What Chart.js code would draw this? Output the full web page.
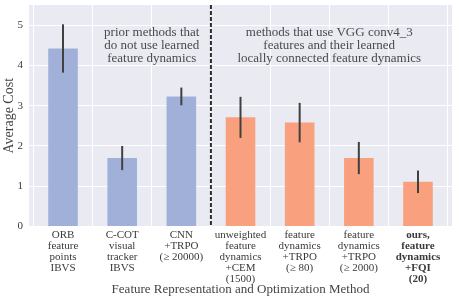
<!DOCTYPE html>
<html>
<head>
<meta charset="utf-8">
<script src="https://cdn.jsdelivr.net/npm/chart.js@4"></script>
<style>
  html, body { margin: 0; padding: 0; background: #fff; }
  #wrap { width: 457px; height: 302px; }
</style>
</head>
<body>
<div id="wrap"><canvas id="costChart" width="457" height="302"></canvas></div>
<script>
// data
const methods = [
  ['ORB', 'feature', 'points', 'IBVS'],
  ['C-COT', 'visual', 'tracker', 'IBVS'],
  ['CNN', '+TRPO', '(\u2265 20000)'],
  ['unweighted', 'feature', 'dynamics', '+CEM', '(1500)'],
  ['feature', 'dynamics', '+TRPO', '(\u2265 80)'],
  ['feature', 'dynamics', '+TRPO', '(\u2265 2000)'],
  ['ours,', 'feature', 'dynamics', '+FQI', '(20)']
];
const avgCost = [4.42, 1.70, 3.23, 2.71, 2.58, 1.70, 1.11];
const costErr = [0.60, 0.30, 0.22, 0.51, 0.49, 0.40, 0.28];
const yTicks = [0, 1, 2, 3, 4, 5];
const groupNotes = [
  ['prior methods that', 'do not use learned', 'feature dynamics'],
  ['methods that use VGG conv4_3', 'features and their learned', 'locally connected feature dynamics']
];

const blue = '#a1b0d8';
const orange = '#f9a07e';
const serif = '"Liberation Serif", "DejaVu Serif", serif';

const points = avgCost.map((v, i) => ({ x: i, y: v }));

// background + grid area fill
const bgPlugin = {
  id: 'bg',
  beforeDraw(chart) {
    const { ctx, chartArea: a } = chart;
    ctx.save();
    ctx.fillStyle = '#eaeaf2';
    ctx.fillRect(a.left, a.top, a.right - a.left, a.bottom - a.top);
    ctx.restore();
  }
};

// error bars, divider line, notes and axis titles
const extrasPlugin = {
  id: 'extras',
  afterDatasetsDraw(chart) {
    const { ctx, chartArea: a } = chart;
    const xs = chart.scales.x, ys = chart.scales.y;
    ctx.save();
    ctx.strokeStyle = '#404040';
    ctx.lineWidth = 2;
    avgCost.forEach((v, i) => {
      const px = xs.getPixelForValue(i);
      ctx.beginPath();
      ctx.moveTo(px, ys.getPixelForValue(v - costErr[i]));
      ctx.lineTo(px, ys.getPixelForValue(v + costErr[i]));
      ctx.stroke();
    });

    // dashed divider between the two groups
    const dx = xs.getPixelForValue(2.5);
    ctx.strokeStyle = '#2e2e2e';
    ctx.setLineDash([4, 2]);
    ctx.beginPath();
    ctx.moveTo(dx, a.top);
    ctx.lineTo(dx, a.bottom);
    ctx.stroke();
    ctx.setLineDash([]);

    ctx.fillStyle = '#4a4a4a';
    ctx.font = '13px ' + serif;
    ctx.textAlign = 'center';
    ctx.textBaseline = 'middle';
    const noteX = [xs.getPixelForValue(1.5), xs.getPixelForValue(4.5)];
    groupNotes.forEach((lines, g) => {
      lines.forEach((t, k) => {
        ctx.fillText(t, noteX[g], ys.getPixelForValue(4.82) + k * 13);
      });
    });

    ctx.fillStyle = '#444';
    ctx.font = '13px ' + serif;
    ctx.fillText('Feature Representation and Optimization Method', (a.left + a.right) / 2, 290);
    ctx.font = '14px ' + serif;
    ctx.translate(9, (a.top + a.bottom) / 2);
    ctx.rotate(-Math.PI / 2);
    ctx.fillText('Average Cost', 0, 0);
    ctx.restore();
  }
};

new Chart(document.getElementById('costChart'), {
  type: 'bar',
  data: {
    datasets: [{
      data: points,
      backgroundColor: avgCost.map((v, i) => i < 3 ? blue : orange),
      borderWidth: 0,
      barPercentage: 0.5,
      categoryPercentage: 1
    }]
  },
  options: {
    responsive: false,
    animation: false,
    layout: { padding: { top: 5, right: 5, left: 0, bottom: 0 } },
    plugins: { legend: { display: false }, tooltip: { enabled: false } },
    scales: {
      x: {
        type: 'linear',
        min: -0.575,
        max: 6.575,
        offset: false,
        border: { display: false },
        grid: { color: '#ffffff', lineWidth: 1, drawTicks: false },
        afterFit(s) { s.height = 75.5; s.paddingLeft = 0; s.paddingRight = 0; },
        afterBuildTicks(s) { s.ticks = methods.map((m, i) => ({ value: i })); },
        ticks: {
          autoSkip: false,
          maxRotation: 0,
          padding: 3,
          color: '#3a3a3a',
          font: (c) => ({ family: serif, size: 11, lineHeight: 1.0, weight: c.index === 6 ? 'bold' : 'normal' }),
          callback: (v) => methods[v]
        }
      },
      y: {
        min: 0,
        max: 5.5,
        border: { display: false },
        grid: { color: '#ffffff', lineWidth: 1, drawTicks: false },
        afterFit(s) { s.width = 29; s.paddingTop = 0; s.paddingBottom = 0; },
        afterBuildTicks(s) { s.ticks = yTicks.map(v => ({ value: v })); },
        ticks: {
          padding: 6,
          color: '#3a3a3a',
          font: { family: serif, size: 11 }
        }
      }
    }
  },
  plugins: [bgPlugin, extrasPlugin]
});
</script>
</body>
</html>
